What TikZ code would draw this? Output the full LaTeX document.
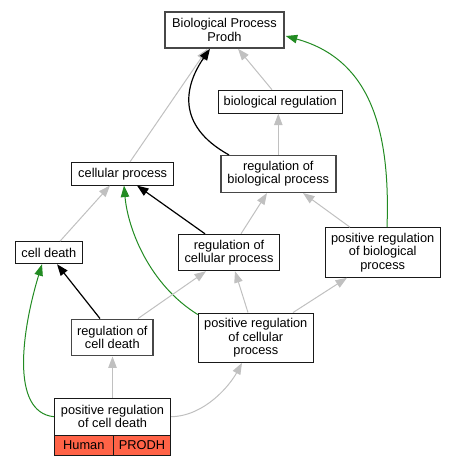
\documentclass[tikz,border=0pt]{standalone}
\usepackage{fontspec}
\setmainfont{Liberation Sans}
\usetikzlibrary{arrows.meta,calc}
\definecolor{edgegray}{HTML}{C0C0C0}
\definecolor{edgegreen}{HTML}{228B22}
\definecolor{tomato}{HTML}{FF6347}
\definecolor{thickborder}{HTML}{474747}
\begin{document}
\begin{tikzpicture}[x=1pt,y=-1pt,
  box/.style={draw=black!90,line width=1pt,fill=white,align=center,inner sep=0pt,
    font=\fontsize{12.8}{13.3}\selectfont},
  thickbox/.style={box,draw=thickborder,line width=1.5pt},
  cellbox/.style={box,fill=tomato},
  tip/.style={-{Triangle[length=11.5pt,width=8.5pt]}},
  grayedge/.style={tip,draw=edgegray,line width=1pt},
  blackedge/.style={tip,draw=black,line width=1.2pt},
  greenedge/.style={tip,draw=edgegreen,line width=1pt}]
\useasboundingbox (0,0) rectangle (456,467);
% nodes
\node[thickbox,minimum width=119pt,minimum height=36pt] (bp) at (224.5,30) {Biological Process\\Prodh};
\node[box,minimum width=124pt,minimum height=23pt] (breg) at (280.3,101.7) {biological regulation};
\node[thickbox,minimum width=115pt,minimum height=36.6pt] (rbp) at (278.3,174) {regulation of\\biological process};
\node[box,minimum width=102pt,minimum height=22.7pt] (cp) at (122.7,173.7) {cellular process};
\node[box,minimum width=67pt,minimum height=22pt] (cd) at (48.8,252.7) {cell death};
\node[box,minimum width=100.6pt,minimum height=36.4pt] (rcp) at (229,252.5) {regulation of\\cellular process};
\node[box,minimum width=114.7pt,minimum height=49.6pt] (prbp) at (382.7,252.5) {positive regulation\\of biological\\process};
\node[thickbox,minimum width=81.3pt,minimum height=36.4pt] (rcd) at (112.3,337.5) {regulation of\\cell death};
\node[box,minimum width=115pt,minimum height=49.3pt] (prcp) at (255.8,337.7) {positive regulation\\of cellular\\process};
\node[box,minimum width=116.4pt,minimum height=36.7pt] (prcd) at (112.5,416.7) {positive regulation\\of cell death};
\node[cellbox,minimum width=59pt,minimum height=20.7pt] (hum) at (83.8,445.35) {Human};
\node[cellbox,minimum width=57.4pt,minimum height=20.7pt] (prodh) at (142,445.35) {PRODH};
% edges
\draw[grayedge] ($(cp.north)+(7.3,0)$) -- ($(bp.south)+(-17,0)$);
\draw[grayedge] ($(breg.north)+(-8.3,0)$) -- ($(bp.south)+(13.5,0)$);
\draw[blackedge] ($(rbp.north)+(-49.3,0)$) .. controls (175,125) and (185,85) .. ($(bp.south)+(-14.5,0)$);
\draw[grayedge] (rbp.north) -- (rbp.north |- breg.south);
\draw[greenedge] ($(prbp.north)+(4.3,0)$) .. controls (391,120) and (365,58) .. ($(bp.east)+(1,6)$);
\draw[grayedge] ($(cd.north)+(11.2,0)$) -- ($(cp.south)+(-12.7,0)$);
\draw[blackedge] ($(rcp.north)+(-24,0)$) -- ($(cp.south)+(14.3,0)$);
\draw[greenedge] ($(prcp.north west)+(0,2)$) .. controls (150,285) and (128,230) .. ($(cp.south)+(1.3,0)$);
\draw[grayedge] ($(rcp.north)+(12,0)$) -- ($(rbp.south)+(-11.3,0)$);
\draw[grayedge] ($(prbp.north)+(-32.7,0)$) -- ($(rbp.south)+(24.7,0)$);
\draw[greenedge] (prcd.west) .. controls (10,412) and (22,330) .. ($(cd.south)+(-6.8,0)$);
\draw[blackedge] ($(rcd.north)+(-12.3,0)$) -- ($(cd.south)+(8.2,0)$);
\draw[grayedge] ($(rcd.north)+(25.7,0)$) -- ($(rcp.south)+(-23,0)$);
\draw[grayedge] ($(prcp.north)+(-7.8,0)$) -- ($(rcp.south)+(6,0)$);
\draw[grayedge] ($(prcp.north)+(37.2,0)$) -- ($(prbp.south)+(-35.7,0)$);
\draw[grayedge] (prcd.north) -- (prcd.north |- rcd.south);
\draw[grayedge] (prcd.east) .. controls (205,416) and (230,385) .. ($(prcp.south)+(-13.8,0)$);
\end{tikzpicture}
\end{document}
